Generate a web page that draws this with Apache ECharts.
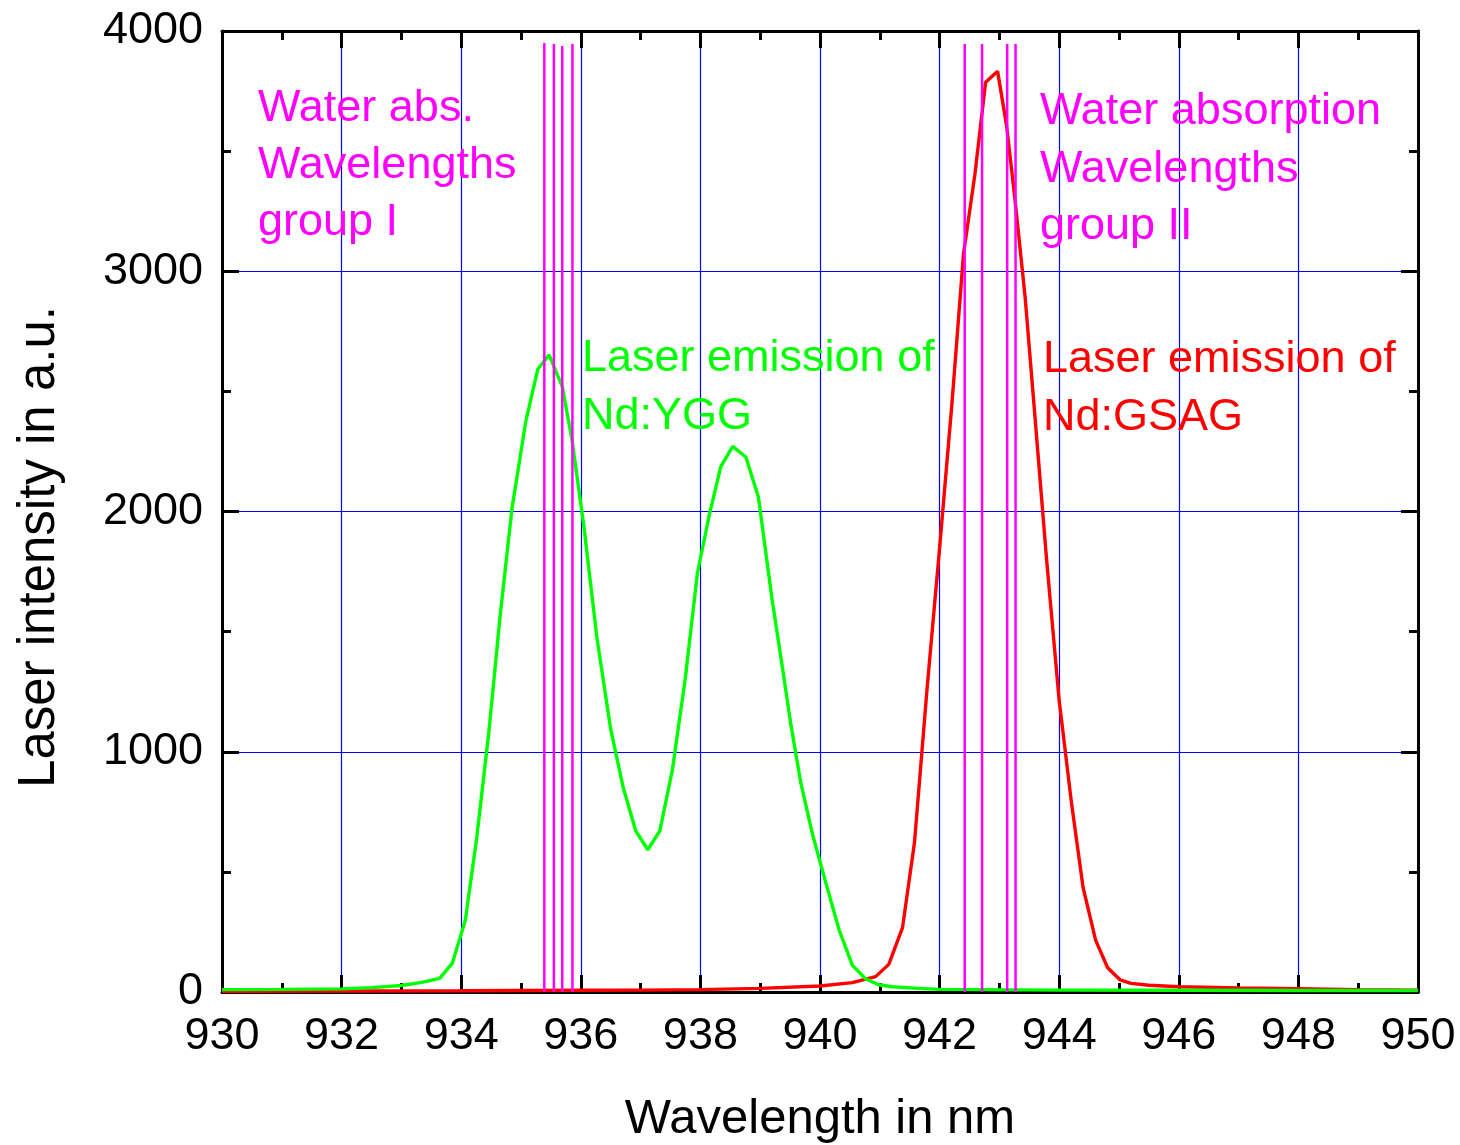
<!DOCTYPE html>
<html>
<head>
<meta charset="utf-8">
<script src="https://cdn.jsdelivr.net/npm/echarts@6/dist/echarts.min.js"></script>
<style>
html,body{margin:0;padding:0;background:#fff;}
#chart{width:1460px;height:1145px;}
</style>
</head>
<body>
<div id="chart"></div>
<script>
// ---- data ----
var greenX = [930.0, 931.0, 932.0, 932.5, 933.0, 933.34, 933.64, 933.85, 934.07, 934.26, 934.46, 934.65, 934.85, 935.08, 935.28, 935.47, 935.69, 935.85, 936.05, 936.27, 936.50, 936.71, 936.92, 937.12, 937.32, 937.53, 937.75, 937.95, 938.15, 938.34, 938.54, 938.76, 938.97, 939.20, 939.37, 939.51, 939.68, 939.87, 940.10, 940.32, 940.54, 940.76, 940.98, 941.2, 941.65, 942.0, 944.0, 946.0, 948.0, 950.0];
var greenY = [10, 11, 13, 18, 27, 40, 57, 119, 300, 643, 1076, 1563, 2014, 2375, 2592, 2652, 2520, 2303, 1942, 1473, 1094, 850, 670, 592, 670, 922, 1310, 1744, 1987, 2186, 2271, 2227, 2060, 1632, 1354, 1118, 869, 661, 452, 258, 112, 55, 30, 22, 15, 11, 8, 7, 6, 6];
var redX = [930.0, 932.0, 934.0, 936.0, 937.0, 938.0, 939.0, 940.0, 940.54, 940.93, 941.15, 941.38, 941.58, 941.79, 942.0, 942.21, 942.40, 942.59, 942.77, 942.97, 943.12, 943.26, 943.43, 943.59, 943.79, 944.0, 944.21, 944.40, 944.61, 944.81, 945.02, 945.2, 945.5, 946.0, 947.0, 948.0, 949.0, 950.0];
var redY = [3, 4, 5, 7, 8, 10, 15, 25, 39, 64, 115, 268, 622, 1262, 1848, 2460, 3072, 3403, 3787, 3832, 3606, 3300, 2893, 2409, 1798, 1212, 778, 434, 215, 101, 50, 36, 28, 22, 17, 14, 10, 8];
var waterX = [935.39, 935.55, 935.69, 935.86, 942.42, 942.71, 943.13, 943.27];
var waterTop = [3950, 3946, 3938, 3946, 3946, 3946, 3946, 3946];
var xTicks = {min: 930, max: 950, step: 2};
var yTicks = {min: 0, max: 4000, step: 1000};
var xTitle = 'Wavelength in nm';
var yTitle = 'Laser intensity in a.u.';
var groupILabel = ['Water abs.', 'Wavelengths', 'group I'];
var groupIILabel = ['Water absorption', 'Wavelengths', 'group II'];
var yggLabel = ['Laser emission of', 'Nd:YGG'];
var gsagLabel = ['Laser emission of', 'Nd:GSAG'];

// ---- chart ----
var FF = '"Liberation Sans", Arial, Helvetica, sans-serif';
function zip(a, b) { return a.map(function (v, i) { return [v, b[i]]; }); }

function textLines(lines, x, yFirst, step, color) {
  return lines.map(function (t, i) {
    return {
      type: 'text', x: x, y: yFirst + i * step, z: 100,
      style: { text: t, fill: color, font: '45px ' + FF, textAlign: 'left', textVerticalAlign: 'middle' }
    };
  });
}

var axisCommon = {
  type: 'value',
  axisLine: { show: true, onZero: false, lineStyle: { color: '#000', width: 3 } },
  axisTick: { show: true, inside: true, length: 17, lineStyle: { color: '#000', width: 3 } },
  minorTick: { show: true, splitNumber: 2, length: 9, lineStyle: { color: '#000', width: 3 } },
  minorSplitLine: { show: false }
};

var chart = echarts.init(document.getElementById('chart'), null, { renderer: 'canvas' });
var option = {
  backgroundColor: '#fff',
  animation: false,
  grid: { left: 222, top: 31, width: 1196, height: 961, outerBoundsMode: 'none', containLabel: false },
  xAxis: [
    Object.assign({}, axisCommon, {
      position: 'bottom', min: xTicks.min, max: xTicks.max, interval: xTicks.step,
      axisLabel: { show: true, fontSize: 45, color: '#000', fontFamily: FF, margin: 22, showMinLabel: true, showMaxLabel: true, hideOverlap: false,
                   formatter: function (v) { return String(v); } },
      splitLine: { show: true, lineStyle: { color: '#0000ff', width: 1.2 } }
    }),
    Object.assign({}, axisCommon, {
      position: 'top', min: xTicks.min, max: xTicks.max, interval: xTicks.step,
      axisLabel: { show: false }, splitLine: { show: false }
    })
  ],
  yAxis: [
    Object.assign({}, axisCommon, {
      position: 'left', min: yTicks.min, max: yTicks.max, interval: yTicks.step,
      axisLabel: { show: true, fontSize: 45, color: '#000', fontFamily: FF, margin: 19,
                   formatter: function (v) { return String(v); } },
      splitLine: { show: true, lineStyle: { color: '#0000ff', width: 1.2 } }
    }),
    Object.assign({}, axisCommon, {
      position: 'right', min: yTicks.min, max: yTicks.max, interval: yTicks.step,
      axisLabel: { show: false }, splitLine: { show: false }
    })
  ],
  series: [
    {
      type: 'line', name: 'Nd:GSAG', data: zip(redX, redY), showSymbol: false, symbol: 'none',
      lineStyle: { color: '#ff0000', width: 3.4 }, z: 3, silent: true
    },
    {
      type: 'line', name: 'Nd:YGG', data: zip(greenX, greenY), showSymbol: false, symbol: 'none',
      lineStyle: { color: '#00ff00', width: 3.4 }, z: 4, silent: true
    },
    {
      type: 'custom', name: 'water', data: zip(waterX, waterTop), z: 5, silent: true,
      renderItem: function (params, api) {
        var p0 = api.coord([api.value(0), 0]);
        var p1 = api.coord([api.value(0), api.value(1)]);
        return { type: 'line', shape: { x1: p0[0], y1: p0[1], x2: p1[0], y2: p1[1] },
                 style: { stroke: '#ff00ff', lineWidth: 2.5 } };
      }
    }
  ],
  graphic: [].concat(
    textLines(groupILabel, 258, 109, 57, '#ff00ff'),
    textLines(groupIILabel, 1040, 112, 57.5, '#ff00ff'),
    textLines(yggLabel, 582, 359, 57.5, '#00ff00'),
    textLines(gsagLabel, 1043, 360, 57.5, '#ff0000'),
    [
      { type: 'text', x: 820, y: 1119, z: 100,
        style: { text: xTitle, fill: '#000', font: '49px ' + FF, textAlign: 'center', textVerticalAlign: 'middle' } },
      { type: 'text', x: 40, y: 547, rotation: Math.PI / 2, z: 100,
        style: { text: yTitle, fill: '#000', font: '51px ' + FF, textAlign: 'center', textVerticalAlign: 'middle' } }
    ]
  )
};
chart.setOption(option);
</script>
</body>
</html>
